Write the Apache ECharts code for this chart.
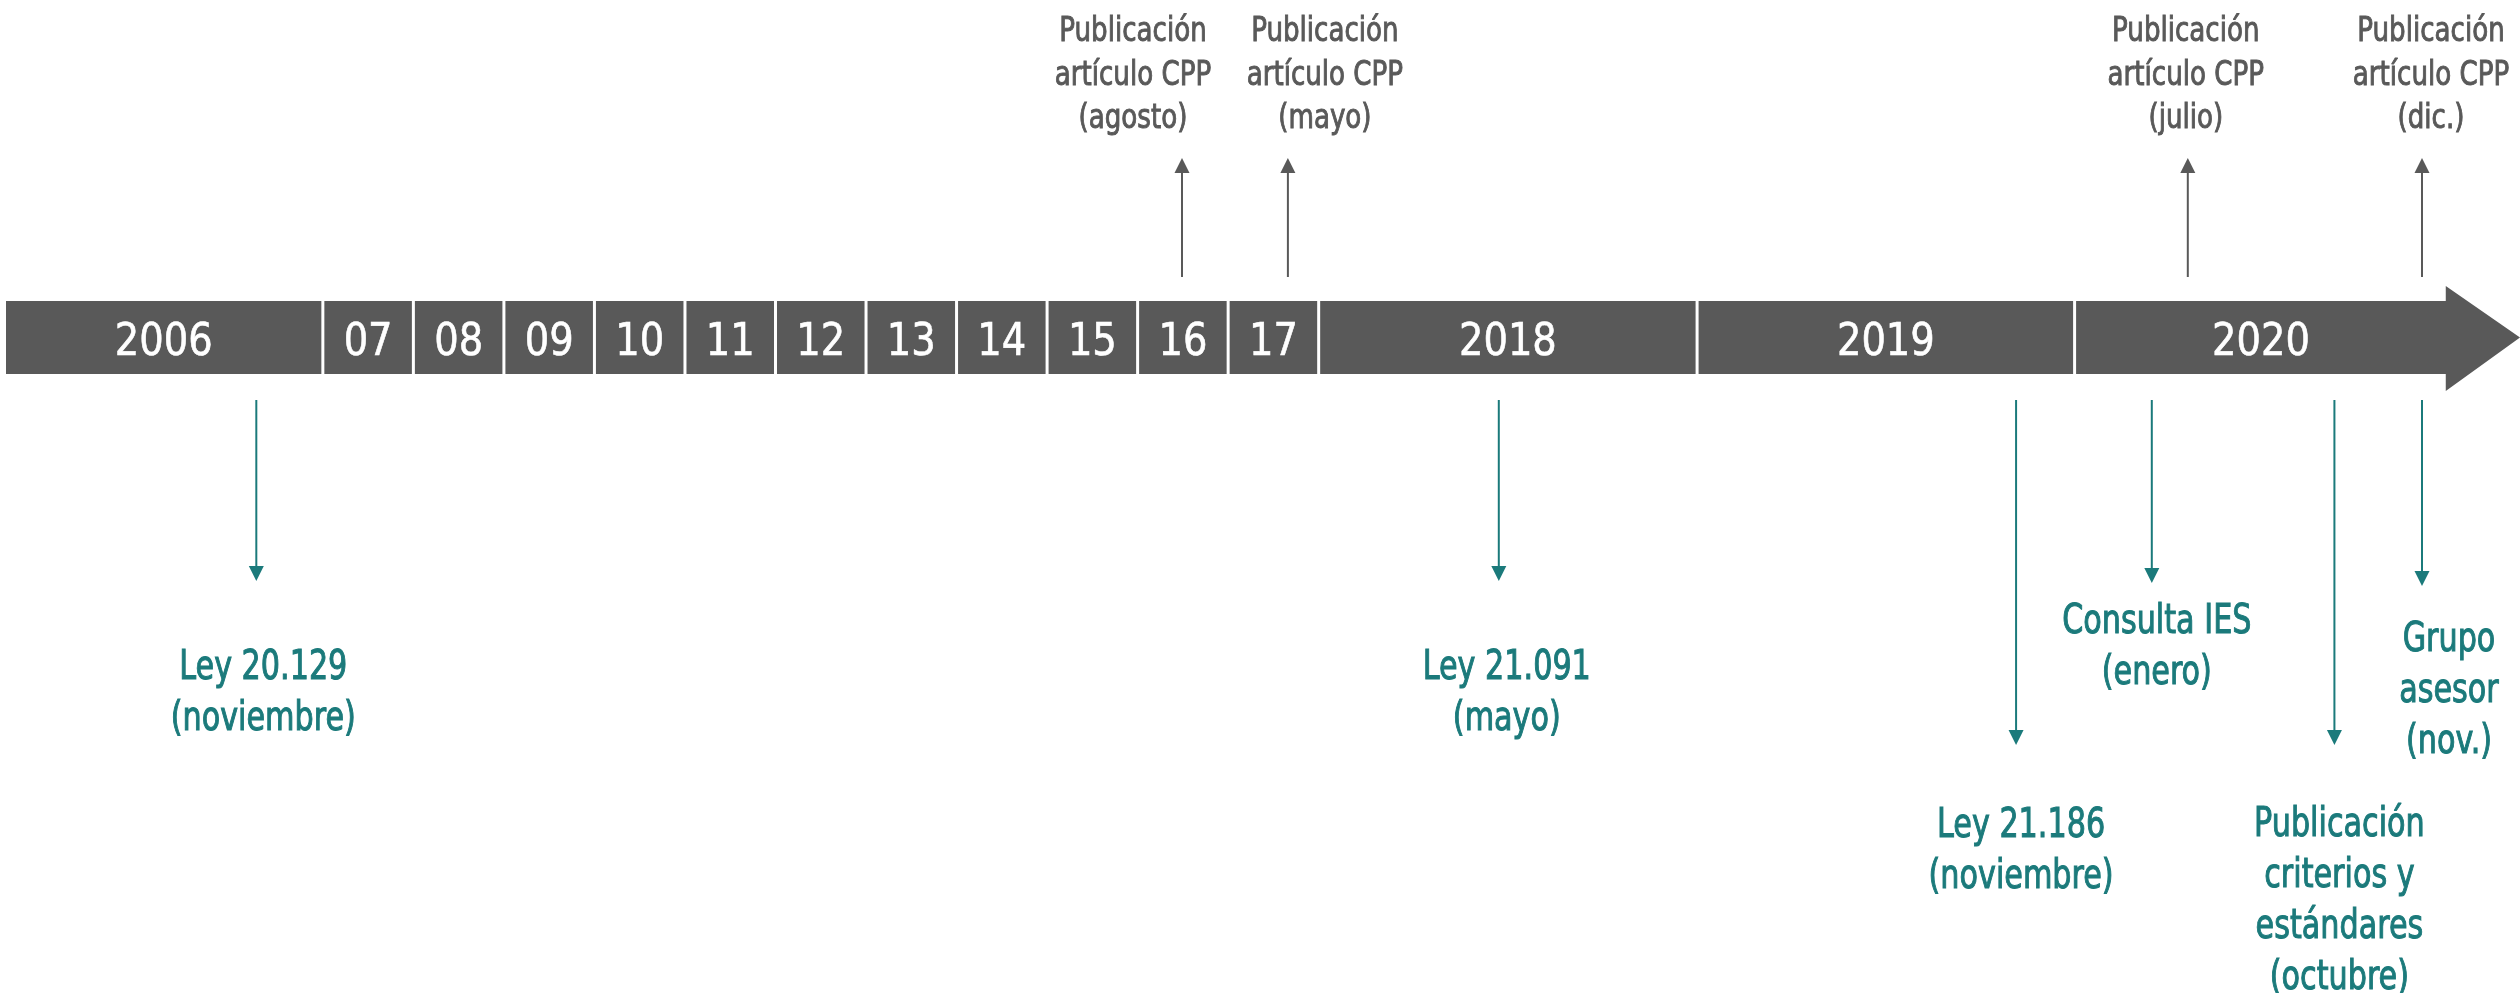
<!DOCTYPE html>
<html><head><meta charset="utf-8">
<script src="https://cdn.jsdelivr.net/npm/echarts@6/dist/echarts.min.js"></script>
<style>html,body{margin:0;padding:0;background:#fff}#c{width:2520px;height:993px}</style>
</head><body><div id="c"></div>
<script>
// ---- data ----
const yearLabels = ['2006','07','08','09','10','11','12','13','14','15','16','17','2018','2019','2020'];
const yearSpans  = [3.5,1,1,1,1,1,1,1,1,1,1,1,4.18,4.17,4.1];
const arrowHeadSpan = 0.82;

const eventTexts = [
  'Ley 20.129\n(noviembre)',
  'Publicación\nartículo CPP\n(agosto)',
  'Publicación\nartículo CPP\n(mayo)',
  'Ley 21.091\n(mayo)',
  'Ley 21.186\n(noviembre)',
  'Consulta IES\n(enero)',
  'Publicación\nartículo CPP\n(julio)',
  'Publicación\ncriterios y\nestándares\n(octubre)',
  'Grupo\nasesor\n(nov.)',
  'Publicación\nartículo CPP\n(dic.)'
];
const eventYears     = ['2006','16','17','2018','2019','2020','2020','2020','2020','2020'];
const eventFractions = [0.79,0.49,0.66,0.476,0.845,0.208,0.305,0.70,0.936,0.936];
const eventSides     = ['down','up','up','down','down','down','up','down','down','up'];

// ---- layout / style (pixels) ----
const eventLayout = [
  {tip:581, textTop:643, dx:7},
  {tip:158, textTop:11,  dx:-49},
  {tip:158, textTop:11,  dx:37},
  {tip:581, textTop:643, dx:8},
  {tip:745, textTop:801, dx:5},
  {tip:583, textTop:597, dx:5},
  {tip:158, textTop:11,  dx:-2},
  {tip:745, textTop:800, dx:5},
  {tip:586, textTop:615, dx:27},
  {tip:158, textTop:11,  dx:9}
];
const BAR_TOP = 301, BAR_BOT = 374, HEAD_TOP = 286, HEAD_BOT = 391;
const BAR_MID = (BAR_TOP + BAR_BOT) / 2;
const GAP = 3;
const GREY = '#595959', TEAL = '#1B7A7B';
const FONT = "'DejaVu Sans Condensed', 'Liberation Sans Narrow', 'DejaVu Sans', sans-serif";
const UP_LINE_START = 277, DOWN_LINE_START = 400, HEAD_LEN = 15, HEAD_W = 15;
const UP_TEXT = {fontSize:33, lineHeight:43.5, scaleX:0.88, weight:0.9};
const DOWN_TEXT = {fontSize:40, lineHeight:51, scaleX:0.84, weight:1.0};
const YEAR_TEXT = {fontSize:45, scaleX:0.95, dy:6, weight:0.6};

// ---- derived ----
const yearStarts = [];
let acc = 0;
yearSpans.forEach(s => { yearStarts.push(acc); acc += s; });
const axisMax = acc + arrowHeadSpan;
const segData = yearLabels.map((l, i) => [yearStarts[i], yearStarts[i] + yearSpans[i], i]);
const evData = eventTexts.map((t, i) => {
  const yi = yearLabels.indexOf(eventYears[i]);
  return [yearStarts[yi] + eventFractions[i] * yearSpans[yi], i];
});

function renderSegment(params, api) {
  const i = api.value(2);
  const x0 = api.coord([api.value(0), 0])[0];
  const x1 = api.coord([api.value(1), 0])[0];
  const g = GAP / 2;
  const left = i === 0 ? x0 : x0 + g;
  const isLast = i === yearLabels.length - 1;
  const children = [];
  let right;
  if (!isLast) {
    right = x1 - g;
    children.push({type:'rect', shape:{x:left, y:BAR_TOP, width:right-left, height:BAR_BOT-BAR_TOP}, style:{fill:GREY}});
  } else {
    right = x1;
    const tip = api.coord([axisMax, 0])[0];
    children.push({type:'polygon', shape:{points:[[left,BAR_TOP],[x1,BAR_TOP],[x1,HEAD_TOP],[tip,BAR_MID],[x1,HEAD_BOT],[x1,BAR_BOT],[left,BAR_BOT]]}, style:{fill:GREY}});
  }
  children.push({type:'text', x:(left+right)/2, y:BAR_MID+YEAR_TEXT.dy, scaleX:YEAR_TEXT.scaleX,
    style:{text:yearLabels[i], x:0, y:0, align:'center', verticalAlign:'middle',
    fill:'#ffffff', stroke:'#ffffff', lineWidth:YEAR_TEXT.weight, fontSize:YEAR_TEXT.fontSize, fontFamily:FONT}});
  return {type:'group', children};
}

function renderEvent(params, api) {
  const i = api.value(1);
  const x = api.coord([api.value(0), 0])[0];
  const L = eventLayout[i];
  const up = eventSides[i] === 'up';
  const color = up ? GREY : TEAL;
  const T = up ? UP_TEXT : DOWN_TEXT;
  const start = up ? UP_LINE_START : DOWN_LINE_START;
  const base = up ? L.tip + HEAD_LEN : L.tip - HEAD_LEN;
  return {type:'group', children:[
    {type:'line', shape:{x1:x, y1:start, x2:x, y2:base}, style:{stroke:color, lineWidth:2}},
    {type:'polygon', shape:{points:[[x-HEAD_W/2, base],[x+HEAD_W/2, base],[x, L.tip]]}, style:{fill:color}},
    {type:'text', x:x+L.dx, y:L.textTop, scaleX:T.scaleX,
      style:{text:eventTexts[i], x:0, y:0, align:'center', verticalAlign:'top',
      fill:color, stroke:color, lineWidth:T.weight, fontSize:T.fontSize, lineHeight:T.lineHeight, fontFamily:FONT}}
  ]};
}

const chart = echarts.init(document.getElementById('c'), null, {renderer:'canvas'});
chart.setOption({
  backgroundColor:'#ffffff',
  animation:false,
  grid:{left:6, right:0, top:0, bottom:0},
  xAxis:{type:'value', min:0, max:axisMax, show:false},
  yAxis:{type:'value', min:0, max:1, show:false},
  series:[
    {type:'custom', renderItem:renderSegment, data:segData, clip:false, silent:true},
    {type:'custom', renderItem:renderEvent, data:evData, clip:false, silent:true}
  ]
});
</script>
</body></html>
